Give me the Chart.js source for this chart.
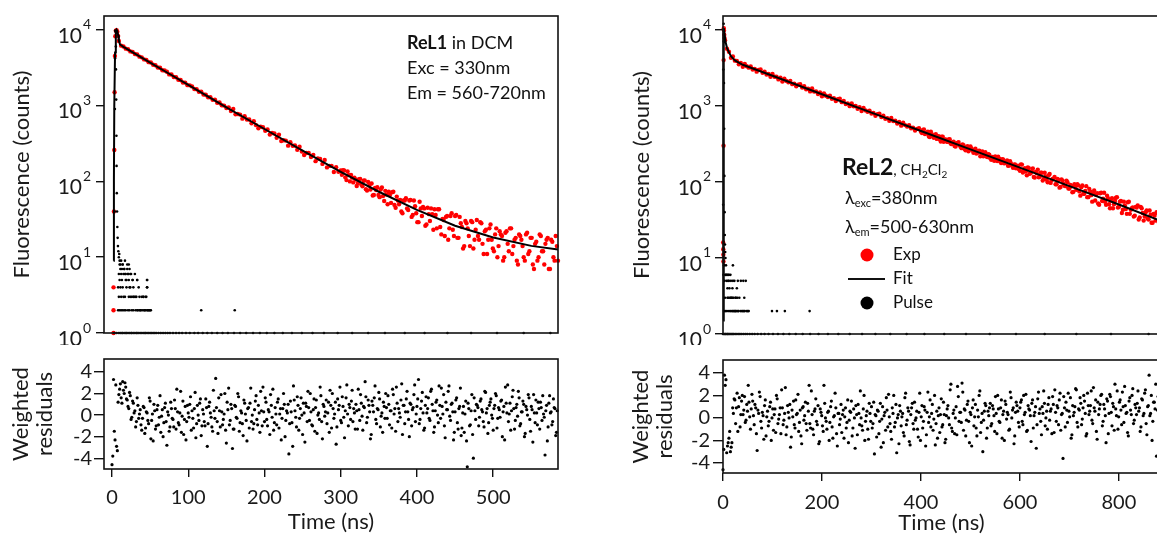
<!DOCTYPE html>
<html>
<head>
<meta charset="utf-8">
<script src="https://cdn.jsdelivr.net/npm/chart.js"></script>
<style>
  html, body { margin: 0; padding: 0; background: #fff; overflow: hidden; width: 1157px; height: 536px; }
  .box { position: absolute; }
</style>
</head>
<body>
<div class="box" style="left:0;top:0;width:580px;height:345px"><canvas id="mainL"></canvas></div>
<div class="box" style="left:0;top:345px;width:580px;height:191px"><canvas id="resLc"></canvas></div>
<div class="box" style="left:620px;top:0;width:560px;height:345px"><canvas id="mainR"></canvas></div>
<div class="box" style="left:620px;top:345px;width:560px;height:191px"><canvas id="resRc"></canvas></div>
<script>
// ---- data: ReL1 (left) ----
const fitL_t = [2, 2.5, 3, 4, 5, 6, 7, 8, 9, 10.5, 15, 25, 50, 75, 100, 150, 200, 250, 300, 350, 400, 450, 500, 550, 585];
const fitL_y = [9, 100, 1000, 5000, 9500, 10000, 9600, 8500, 7200, 6400, 5940, 5180, 3690, 2630, 1870, 950, 491, 254, 134, 73, 42, 26, 18.2, 14.1, 12.6];

const expL_riseT = [2, 2, 2, 2.5, 3, 3.4, 3.8, 4.3, 5, 6, 7, 8];
const expL_riseY = [1, 2, 4, 40, 260, 1500, 4500, 8200, 9700, 9900, 9400, 8300];
// channels every 3 ns from 9 ns
const expL_t0 = 9, expL_dt = 3;
const expL = [
  7100, 6180, 6010, 5640, 5530, 5190, 5110, 4790, 4720, 4420,
  4330, 4070, 4010, 3740, 3700, 3450, 3410, 3180, 3150, 2920,
  2900, 2790, 2580, 2570, 2380, 2370, 2190, 2180, 2020, 2010,
  1860, 1850, 1790, 1650, 1640, 1520, 1530, 1400, 1390, 1290,
  1290, 1190, 1200, 1090, 1100, 1010, 1000, 930,
  948, 850, 901, 768, 776, 761, 673, 722, 654, 654,
  586, 621, 552, 503, 525, 519, 466, 484, 416, 435,
  429, 377, 412, 341, 349, 345, 296, 329, 295, 297,
  261, 286, 247, 223, 237, 237, 209, 224, 185, 200,
  197, 170, 192, 153, 160, 160, 133, 154, 134, 139,
  140, 113, 135, 100, 112, 112, 87, 107, 91, 102,
  79, 98, 78, 65, 82, 84, 62, 83, 55, 67,
  73, 52, 73, 45, 56, 57, 38, 56, 44, 56,
  34, 56, 38, 29, 44, 46, 26, 45, 30, 37,
  43, 24, 43, 20, 31, 34, 17, 35, 23, 35,
  18, 34, 25, 14, 28, 19, 30, 13, 23, 19,
  29, 15, 22, 11, 24, 17, 12, 24, 14, 20,
  9, 21, 15, 24, 11, 17, 9, 20, 17, 10,
  20, 11, 18, 8, 15, 9, 20, 12, 8, 17,
  7, 17, 10, 19, 9
];
// in-between channels of the tail, from 301.5 ns
const expL2_t0 = 301.5, expL2_dt = 3;
const expL2 = [
  122, 139, 104, 121, 122, 97, 106, 95, 108, 86,
  103, 76, 88, 94, 66, 77, 66, 78, 64, 75,
  50, 66, 72, 49, 63, 50, 40, 56, 60, 42,
  57, 36, 47, 29, 54, 35, 44, 27, 37, 44,
  23, 36, 43, 25, 32, 19, 35, 24, 38, 19,
  36, 18, 28, 13, 30, 24, 14, 29, 17, 31,
  17, 28, 11, 23, 17, 27, 13, 20, 10, 22,
  19, 10, 22, 12, 24, 14, 18, 8, 19, 14,
  9, 21, 12, 18, 7, 16, 10, 19, 12, 15,
  18, 7, 16, 9, 14
];

const pulseL_t = [3, 3.5, 3.8, 4, 4.3, 4.6, 5, 5.2, 5.5, 5.8, 6, 6.3, 6.6, 7, 7.4, 7.8, 8.3, 9, 9.5, 10,
  11, 12, 13, 14, 15, 16, 17, 18, 19, 20, 21, 22, 23, 24, 25, 26, 27, 28, 29, 30,
  31, 32, 33, 34, 35, 36, 37, 38, 39, 40, 41, 42, 43, 45, 46, 46, 46, 48, 50, 117, 161,
  8, 10, 12, 14, 16, 18, 21, 23, 26, 28, 33, 36, 44, 47, 49, 51,
  9, 12, 15, 17, 22, 24, 28, 31, 41, 44,
  8, 11, 14, 19, 23, 46, 10, 13, 18, 27, 33, 46,
  9, 12, 17, 21, 24, 11, 16, 20, 10, 14, 22,
  6, 9, 11, 13, 14, 16, 18, 19, 21, 23, 25, 26, 28, 30, 32, 33, 35, 37, 39, 41, 43, 44, 46, 48, 50,
  52, 54, 56, 58, 61, 64, 67, 70, 73, 76, 80, 84, 88, 92, 97, 102, 108, 113, 119, 125, 131, 138, 145,
  152, 160, 168, 176, 185, 194, 203, 213, 224, 236, 249, 263, 278, 296, 315, 336, 358, 384, 410, 440,
  471, 505, 540, 575];
const pulseL_y = [1, 40, 900, 4200, 9800, 9500, 6000, 3000, 1200, 400, 160, 70, 40, 25, 18, 14, 12, 10, 11, 9,
  8, 9, 7, 8, 6, 7, 9, 6, 5, 8, 6, 5, 7, 4, 6, 3, 5, 4, 3, 6,
  2, 3, 5, 2, 4, 3, 2, 2, 3, 2, 3, 2, 2, 3, 5, 4, 2, 2, 2, 2, 2,
  2, 2, 2, 2, 2, 2, 2, 2, 2, 2, 2, 2, 2, 2, 2, 2,
  3, 3, 3, 3, 3, 3, 3, 3, 3, 3,
  4, 4, 4, 4, 4, 4, 5, 5, 5, 5, 5, 5,
  6, 6, 6, 6, 6, 7, 7, 7, 8, 8, 8,
  1, 1, 1, 1, 1, 1, 1, 1, 1, 1, 1, 1, 1, 1, 1, 1, 1, 1, 1, 1, 1, 1, 1, 1, 1,
  1, 1, 1, 1, 1, 1, 1, 1, 1, 1, 1, 1, 1, 1, 1, 1, 1, 1, 1, 1, 1, 1, 1,
  1, 1, 1, 1, 1, 1, 1, 1, 1, 1, 1, 1, 1, 1, 1, 1, 1, 1, 1, 1,
  1, 1, 1, 1];

// weighted residuals, channels every 2 ns from 0 and from 1
const resL_t0 = 0, resL_dt = 2;
const resL = [
  -4.6, 3.3, -2.3, -2.9, 1.2, 2.4, 1.6, 3.1, 2.0, 2.6, 1.4, 0.6, 1.8, -0.2, 1.1, 0.4, -0.6, 0.9, 0.1, -0.9,
  -0.3, 0.7, -1.2, 0.2, -0.8, 1.3, -0.5, -2.4, 0.4, -1.0, 0.9, -0.2, -1.6, 0.5, -0.7, 1.1, -2.8, 0.0, -1.1, 0.6,
  -0.4, 1.4, -1.3, 0.3, -0.9, 2.2, -0.1, -1.8, 0.8, -0.6, 0.2, 1.0, -1.4, -0.3, 0.6, -2.1, 0.9, -0.5, 1.5, -1.0,
  0.1, -1.0, 0.7, -0.8, 1.2, -0.2, -1.5, 0.4, 3.4, -0.6, 1.6, -1.1, 0.3, -0.4, 2.0, -2.6, 0.5, -0.9, 1.0, -3.1,
  -1.3, 0.8, -0.3, 1.7, -0.7, 0.2, -1.9, 1.1, -0.5, 0.6, -1.2, 2.5, 0.0, -0.8, 1.3, -0.4, 0.9, -1.6, 0.4, 2.6,
  -0.6, 1.2, -1.0, 0.3, 1.9, -0.2, -1.4, 0.7, -0.9, 1.5, 0.1, -2.3, 0.6, 1.0, -0.5, 0.2, -3.6, 1.3, -0.7, 2.7,
  0.4, -1.1, 0.9, -0.3, 1.6, -1.8, 0.2, 1.1, -0.6, 0.7, 2.0, -0.9, 0.5, -1.5, 1.4, 0.0, -0.4, 1.8, -2.2, 0.8,
  0.3, -0.8, 1.2, 2.3, -1.2, 0.6, 0.1, -2.7, 1.5, 0.9, -0.5, 1.7, -0.2, 0.4, 2.8, -1.0, 0.7, 1.3, -0.6, 0.2,
  1.0, -1.3, 0.5, 1.9, -0.1, 0.8, 3.1, -0.7, 1.4, 0.3, -1.8, 0.9, 1.6, -0.4, 0.6, 2.1, -1.1, 0.2, 1.2, -0.3,
  0.7, 1.8, -0.9, 0.4, 2.4, 0.1, -1.5, 1.1, 0.6, -0.2, 2.9, 0.9, -0.8, 1.5, 0.3, -2.0, 1.0, 0.5, 1.9, -0.6,
  0.8, 3.3, -0.4, 1.3, 0.2, -1.2, 1.7, 0.6, -0.3, 2.2, 1.0, -1.6, 0.4, 1.4, -0.7, 0.9, 2.5, 0.1, -1.0, 1.2,
  0.5, 2.7, -0.5, 1.1, -2.3, 0.3, 1.6, -1.3, 0.8, -1.9, 0.2, -1.6, 1.3, -4.8, 0.6, -0.9, 1.9, -4.0, 0.4, 1.0,
  0.7, -0.2, 1.5, 0.3, -1.1, 2.1, 0.6, -0.7, 1.2, 0.0, -1.4, 0.9, 1.8, -0.3, 0.5, 1.3, -2.0, 0.8, 2.6, 0.2,
  -0.6, 1.1, 0.4, 2.3, -1.3, 0.7, -0.1, 1.6, -0.8, 0.3, 1.0, -1.7, 0.5, 1.9, -0.4, 0.8, -2.5, 0.2, 1.4, -0.9,
  0.6, 1.2, -0.5, 0.1, -3.7, 0.9, -1.1, 1.8, 0.3, -0.6, 0.7, -1.9, 0.4
];
const resL2_t0 = 1, resL2_dt = 2;
const resL2 = [
  -3.8, -1.5, 2.8, -3.3, 1.9, 2.9, 1.1, 2.3, 3.0, 1.5, 0.8, 2.1, -0.4, 1.3, 0.2, -1.1, 1.6, -0.3, 0.5, -1.4,
  0.8, -1.7, 0.3, -0.5, 1.6, -2.2, 0.1, 1.0, -1.3, 0.5, -0.9, 1.8, -0.1, -2.0, 0.7, -0.6, 0.3, -1.5, 1.2, -0.3,
  -1.1, 0.6, 2.4, -0.7, 0.2, -1.6, 1.3, -0.4, -2.3, 0.9, -0.2, 1.7, 0.4, -1.2, 2.1, -0.8, 0.0, 1.1, -1.9, 0.5,
  -0.6, 1.5, -2.9, 0.8, 0.2, -1.1, 2.3, -0.3, 0.7, -1.7, 0.4, 1.9, -0.9, 0.1, -1.4, 1.2, 2.5, -0.5, 0.6, -1.3,
  0.9, -0.2, 2.0, -1.5, 0.4, -0.8, 1.4, 0.1, -2.4, 0.7, 1.1, -0.6, -1.3, 0.5, 1.8, -0.9, 0.2, 2.2, -1.0, 0.3,
  1.6, -0.4, 0.5, -1.8, 0.9, 2.4, -0.7, 0.1, 1.2, -1.2, 0.6, -0.3, 2.0, -2.0, 0.4, 1.0, -0.8, 0.3, -2.9, 1.4,
  -0.2, 1.7, -1.4, 0.6, 0.0, 1.1, -2.5, 0.8, 2.2, -0.5, 0.3, -1.0, 1.5, 0.7, -1.7, 0.2, 2.6, -0.6, 1.0, -0.1,
  1.4, 0.2, -1.6, 0.9, 2.0, -0.3, 1.2, -1.1, 0.5, 2.6, -0.7, 0.8, -2.1, 1.6, 0.1, 1.0, -0.4, 2.3, 0.6, -1.3,
  0.4, 2.4, -0.5, 1.1, -1.4, 0.7, 1.7, -0.2, 0.9, -2.2, 1.3, 0.3, 2.7, -0.8, 0.5, 1.5, -0.1, -1.6, 0.8, 2.0,
  -0.3, 1.0, 0.4, -1.2, 1.9, 0.6, 2.6, -0.6, 0.2, 1.4, -1.8, 0.9, 0.3, 2.2, -0.4, 1.1, -1.0, 0.7, 2.8, 0.1,
  1.5, -0.8, 0.6, 2.1, -1.4, 0.9, 0.2, 1.6, -0.5, 2.4, 0.4, -1.1, 1.2, 0.0, 2.7, -0.3, 0.8, 1.9, -2.1, 0.5,
  2.2, -0.1, 1.0, 0.3, -1.6, 1.4, -0.7, 0.6, 2.5, -1.2, 0.8, 0.1, -2.4, 1.1, -1.0, 0.4, -1.8, 1.6, -0.4, 0.9,
  -1.0, 1.3, 0.5, -0.6, 2.2, 0.2, -1.7, 0.9, 1.5, -0.3, 0.6, 2.0, -1.2, 0.7, -0.2, 1.4, 0.3, -2.3, 1.1, 2.8,
  0.1, -1.4, 1.7, 0.6, -0.5, 1.0, 2.2, -1.0, 0.3, 1.3, -2.0, 0.8, 0.0, 1.6, -1.5, 0.5, 1.9, -0.7, 0.2, 1.2,
  -1.3, 0.7, 1.8, -0.2, 0.4, -2.4, 1.1, 0.2, -0.9, 1.5, 0.6, -1.6
];

// ---- data: ReL2 (right) ----
const fitR_t = [0.4, 1, 1.5, 2, 3, 5, 8, 12, 16, 24, 40, 100, 200, 300, 400, 500, 600, 700, 800, 883];
const fitR_y = [1.5, 200, 3000, 10500, 9000, 7000, 5800, 5100, 4500, 3970, 3470, 2485, 1424, 816, 467, 268, 154, 88, 50.5, 31];

const expR_riseT = [0.3, 0.5, 0.7, 0.9, 1.1, 1.3, 1.6, 2, 2.5, 3];
const expR_riseY = [16, 13, 11, 9, 300, 4000, 10500, 9800, 8600, 7800];
// channels every 4 ns from 4 ns
const expR_t0 = 4, expR_dt = 4;
const expR = [
  7280, 5630, 5150, 4280, 4450, 3930, 3900, 3530, 3670, 3260,
  3560, 3320, 3180, 3300, 3010, 3070, 2820, 2960, 3010, 2720,
  2820, 2580, 2620, 2410, 2630, 2410, 2420, 2230, 2340, 2090,
  2280, 2130, 2040, 2120, 1930, 1960, 1810, 1900, 1930, 1740,
  1810, 1650, 1680, 1550, 1690, 1540, 1550, 1430, 1500, 1340,
  1460, 1360, 1310, 1360, 1240, 1260, 1160, 1220, 1240, 1120,
  1160, 1060, 1080, 991, 1080, 987, 995, 916, 961, 857,
  937, 872, 836, 867, 792, 806, 741, 778, 791, 715,
  743, 677, 690, 635, 692, 633, 638, 587, 615, 549,
  600, 559, 535, 555, 506, 516, 475, 499, 507, 458,
  484, 427, 444, 395, 456, 403, 412, 368, 399, 340,
  393, 358, 340, 363, 320, 332, 296, 322, 334, 290,
  311, 273, 284, 253, 292, 258, 264, 236, 256, 218,
  252, 229, 217, 232, 204, 213, 190, 207, 214, 186,
  199, 176, 183, 163, 187, 165, 169, 151, 164, 140,
  169, 147, 137, 155, 128, 138, 116, 135, 145, 117,
  132, 109, 118, 99, 127, 105, 110, 93, 109, 84,
  108, 94, 88, 99, 82, 88, 74, 87, 93, 75,
  85, 70, 76, 63, 81, 67, 71, 57, 71, 50,
  72, 60, 55, 66, 51, 57, 45, 56, 63, 47,
  56, 43, 49, 38, 55, 43, 46, 36, 46, 32,
  47, 39, 35, 42, 32, 37, 29, 36, 40, 30
];
// in-between channels of the tail, from 402 ns
const expR2_t0 = 402, expR2_dt = 4;
const expR2 = [
  439, 488, 433, 458, 389, 425, 380, 423, 391, 363,
  392, 337, 361, 336, 365, 314, 337, 292, 326, 303,
  278, 303, 260, 296, 268, 276, 241, 273, 241, 257,
  244, 218, 245, 213, 228, 195, 211, 217, 188, 202,
  177, 197, 177, 192, 164, 174, 153, 170, 161, 147,
  170, 133, 152, 122, 152, 131, 150, 114, 130, 115,
  132, 104, 132, 107, 122, 97, 109, 116, 93, 106,
  86, 104, 89, 104, 82, 91, 73, 93, 79, 90,
  66, 90, 70, 88, 63, 75, 55, 77, 68, 52,
  71, 56, 72, 50, 61, 45, 61, 51, 62, 46,
  55, 39, 55, 44, 54, 38, 45, 35, 47, 49,
  34, 45, 31, 40, 33, 42, 29, 38, 31, 39
];

const pulseR_t = [0, 0.3, 0.6, 1, 1.3, 1.6, 2, 2.4, 2.8, 3.2, 3.6, 4, 4.5, 5, 6, 6, 7, 8, 9, 10,
  11, 12, 13, 14, 15, 16, 17, 18, 19, 20, 21, 22, 23, 24, 26, 27, 28, 30, 33, 36,
  38, 40, 43, 46, 48, 52, 99, 109, 125, 175,
  2, 5, 8, 12, 20, 25, 31, 35, 42, 44, 50, 4, 9, 16, 19, 25, 29, 3, 12, 20, 30, 41, 1, 5, 10, 15, 2,
  2, 4, 5, 7, 9, 10, 12, 14, 16, 18, 20, 22, 25, 28, 31, 34, 37, 41, 45, 49, 54, 59, 64, 70, 77,
  84, 92, 101, 111, 122, 134, 147, 161, 176, 193, 212, 233, 256, 281, 308, 338, 371, 407, 447, 491,
  539, 592, 650, 714, 784, 860];
const pulseR_y = [1, 50, 3000, 10000, 12000, 7000, 2000, 500, 120, 40, 20, 15, 12, 10, 8, 6, 5, 6, 4, 5,
  3, 6, 4, 3, 2, 5, 3, 2, 4, 8, 3, 2, 5, 2, 3, 2, 4, 2, 3, 5,
  2, 2, 3, 5, 2, 2, 2, 2, 2, 2,
  2, 2, 2, 2, 2, 2, 2, 2, 2, 2, 2, 3, 3, 3, 3, 3, 3, 5, 5, 5, 5, 5, 6, 6, 6, 6, 8,
  1, 1, 1, 1, 1, 1, 1, 1, 1, 1, 1, 1, 1, 1, 1, 1, 1, 1, 1, 1, 1, 1, 1, 1, 1,
  1, 1, 1, 1, 1, 1, 1, 1, 1, 1, 1, 1, 1, 1, 1, 1, 1, 1, 1, 1,
  1, 1, 1, 1, 1, 1];

// weighted residuals, channels every 3 ns from 0 and from 1.5
const resR_t0 = 0, resR_dt = 3;
const resR = [
  -4.6, 3.8, 3.4, -2.5, -1.8, -3.0, -2.2, 0.4, 1.6, 0.9, -1.2, 1.8, 0.3, 2.0, 0.7, -0.4, 1.2, 2.9, 0.1, 0.8,
  1.5, -0.6, 0.9, -2.9, 0.4, 1.9, -0.9, 0.2, 1.1, -1.6, 0.6, -0.3, 1.4, 0.0, -1.1, 0.8, 2.0, -0.5, 0.3, -1.4,
  0.9, -0.2, 2.7, -0.8, 0.5, 1.2, -1.7, 0.1, -0.6, 1.6, 0.4, -1.2, 0.7, -2.3, 1.0, 0.2, -0.5, 1.3, 2.9, -0.9,
  0.3, -1.5, 0.8, -0.3, 1.1, -2.1, 0.5, -0.7, 2.9, 0.0, -1.0, 0.6, -0.4, 1.5, -1.8, 0.2, 0.9, -2.5, 0.4, -0.1,
  -1.3, 0.7, 0.1, -0.9, 1.6, -0.2, 0.5, -1.6, 0.8, -2.7, 0.3, 1.2, -0.6, 0.0, -1.1, 2.0, -0.3, 0.6, -1.9, 0.4,
  1.0, -0.5, -3.2, 0.2, 0.7, -1.4, 1.3, -0.1, -2.2, 0.5, 1.8, -0.8, 0.1, -1.2, 0.9, 2.0, -0.4, -3.1, 0.3, 1.1,
  -0.7, 0.4, -1.6, 2.2, -0.2, 0.6, -2.4, 0.9, -0.5, 1.4, 0.0, -1.0, 0.5, -2.0, 1.1, -0.3, 0.7, -1.5, 2.3, 0.1,
  -0.8, 1.2, -0.1, -2.4, 0.6, 0.2, -1.3, 1.7, -0.6, 0.3, -1.9, 0.8, 0.0, 2.5, -0.9, 0.4, -1.4, 1.0, 2.8, -0.3,
  0.5, 3.1, -1.1, 0.7, -0.2, 1.5, -2.2, 0.3, 0.9, -0.7, 1.2, -1.6, 0.1, 2.4, -0.4, -3.0, 0.6, 1.1, -0.9, 0.2,
  1.3, -0.5, 0.8, -1.2, 0.4, 2.0, -0.3, 0.9, -1.8, 0.6, 1.5, -0.1, 0.3, -1.0, 1.8, 0.7, -2.3, 0.5, 1.1, -0.4,
  0.9, 1.6, -0.6, 0.3, 2.1, -1.1, 0.8, 0.2, 1.3, -0.9, 0.5, -2.7, 1.7, 0.4, -0.3, 1.0, 2.4, -0.7, 0.6, 1.2,
  -0.2, 0.8, 1.9, -1.3, 0.5, 1.1, -0.6, 2.2, 0.3, -3.6, 0.9, 1.4, -0.4, 0.6, 1.8, -1.5, 0.2, 1.0, 2.5, -0.8,
  0.7, 1.3, -0.1, 2.0, 0.4, -1.4, 1.1, 0.6, 2.4, -0.5, 0.9, 1.6, -1.9, 0.3, 1.2, 2.1, -0.3, 0.8, -2.2, 1.5,
  0.4, 1.9, -0.7, 1.0, 3.0, 0.2, -1.0, 1.4, 0.7, 2.3, -0.4, 1.1, 0.5, -1.6, 1.8, 0.3, 2.6, -0.2, 0.9, 1.3,
  0.6, -1.2, 1.7, 0.2, 2.2, -0.5, 1.0, 3.8, 0.4, -2.0, 1.4, 0.8, -3.4, 1.9
];
const resR2_t0 = 1.5, resR2_dt = 3;
const resR2 = [
  -2.8, 2.9, -3.1, -2.2, -1.2, -2.6, 0.9, 1.7, -0.5, 2.2, 1.0, -0.8, 1.5, 0.3, 1.9, -0.2, 0.6, 1.4, -1.0, 2.1,
  0.2, 1.2, -1.4, 0.7, 2.3, -0.3, 0.5, -1.9, 1.6, 0.1, -0.7, 1.0, -2.0, 0.8, 0.3, -1.3, 1.7, -0.1, 0.9, 2.5,
  -0.6, 0.4, -1.5, 1.1, 0.0, -2.6, 0.7, 1.5, -0.9, 0.3, 2.1, -0.4, -1.6, 0.9, -0.2, 1.4, -1.1, 0.6, -0.5, 2.4,
  -1.0, 0.6, 1.7, -0.6, -2.3, 0.8, 0.2, -1.2, 1.3, -0.3, 0.5, -2.0, 1.0, -0.8, 0.1, 2.2, -1.4, 0.4, -0.6, 1.2,
  0.3, -1.8, 0.9, -0.4, -2.2, 0.6, 1.5, -0.9, 0.0, 1.1, -1.5, 0.4, 2.4, -0.7, 0.8, -2.0, 0.2, -1.0, 1.3, -0.3,
  -0.9, 1.4, 0.3, -1.7, 0.6, -0.3, -2.6, 1.0, 0.2, -1.1, 0.7, 2.1, -0.5, -1.9, 0.4, -0.8, 1.2, 0.0, -2.3, 0.6,
  0.1, -1.3, 1.8, -0.6, 0.9, -2.1, 0.3, 1.3, -1.0, -0.2, 0.6, -1.7, 2.2, 0.1, -0.9, 1.0, -2.5, 0.5, -0.4, 1.6,
  0.4, -1.1, 2.0, -0.5, -1.8, 0.9, 0.3, -0.8, 1.4, -2.2, 0.2, 1.1, -0.6, 3.0, -1.2, 0.7, 0.0, -1.5, 1.9, 0.5,
  -0.4, 2.3, 0.8, -1.6, 1.2, -0.3, 0.5, -2.5, 1.6, 0.1, -0.9, 0.7, 2.0, -1.3, 0.4, -0.2, 1.3, -1.8, 0.6, 0.9,
  -0.7, 1.1, 0.2, 1.9, -1.4, 0.8, -0.4, 1.6, 0.3, -2.0, 1.2, 0.5, -1.1, 2.3, 0.0, 0.9, -1.6, 1.4, 0.6, -0.8,
  1.4, -0.3, 2.0, 0.5, -1.2, 1.1, 0.7, -2.1, 1.6, 0.2, 1.0, -0.6, 2.3, 0.8, -1.5, 0.4, 1.3, 0.0, -1.0, 1.8,
  0.6, -1.4, 1.2, 2.5, -0.3, 0.9, 1.6, -1.1, 0.4, 1.9, -0.8, 0.7, 2.2, 0.1, -1.8, 1.1, 0.5, 2.6, -0.4, 0.8,
  1.8, -0.6, 0.9, 1.5, -1.6, 2.2, 0.3, 1.1, -0.2, 2.7, 0.6, -1.2, 1.4, 0.8, 2.0, -0.7, 1.2, 0.2, 1.7, -1.4,
  2.1, 0.5, 1.3, -1.1, 0.8, 2.4, 0.1, 1.6, -0.6, 1.0, 2.8, 0.4, -1.3, 1.5, 0.7, 2.0, -0.5, 1.2, 0.3, 2.4,
  0.9, -0.8, 1.6, 0.4, 2.5, -1.5, 1.1, 0.2, 2.0, -0.3, 1.4, 3.0, 0.7
];

// axis ticks
const decades = [1, 10, 100, 1000, 10000];
const resTicks = [-4, -2, 0, 2, 4];
const timeTicksL = [0, 100, 200, 300, 400, 500];
const timeTicksR = [0, 200, 400, 600, 800];

// ---- helpers ----
const INK = '#1a1a1a';
const FONT = 'Lato, "Open Sans", "DejaVu Sans", sans-serif';
Chart.defaults.font.family = FONT;
Chart.defaults.color = INK;
Chart.defaults.animation = false;
Chart.defaults.plugins.legend.display = false;
Chart.defaults.plugins.tooltip.enabled = false;

const pairs = (xs, ys) => xs.map((x, i) => ({ x, y: ys[i] }));
const channels = (t0, dt, ys) => ys.map((y, i) => ({ x: t0 + i * dt, y }));

const frame = {
  id: 'frame',
  afterDatasetsDraw(chart) {
    const { ctx, chartArea: a } = chart;
    ctx.save();
    ctx.strokeStyle = '#111';
    ctx.lineWidth = 1.6;
    ctx.strokeRect(a.left, a.top, a.right - a.left, a.bottom - a.top);
    ctx.restore();
  }
};

// 10^n labels on the log axis
const decadeLabels = {
  id: 'decadeLabels',
  afterDraw(chart) {
    const ys = chart.scales.y, ctx = chart.ctx;
    ctx.save();
    ctx.fillStyle = INK;
    ctx.textBaseline = 'middle';
    decades.forEach((v, n) => {
      const py = ys.getPixelForValue(v);
      ctx.font = '21px ' + FONT;
      ctx.textAlign = 'right';
      ctx.fillText('10', 82, py + 6);
      ctx.font = '14px ' + FONT;
      ctx.textAlign = 'left';
      ctx.fillText(String(n), 83, py - 5);
    });
    ctx.restore();
  }
};

function runs(ctx, x, y, parts) {
  parts.forEach(([t, size, dy, bold]) => {
    ctx.font = (bold ? 'bold ' : '') + size + 'px ' + FONT;
    ctx.fillText(t, x, y + dy);
    x += ctx.measureText(t).width;
  });
}

const noteL = {
  id: 'noteL',
  afterDraw(chart) {
    const ctx = chart.ctx;
    ctx.save();
    ctx.fillStyle = '#111';
    ctx.textAlign = 'left';
    ctx.textBaseline = 'middle';
    runs(ctx, 407, 43, [['ReL1', 18, 0, true], [' in DCM', 18, 0]]);
    runs(ctx, 407, 68, [['Exc = 330nm', 18, 0]]);
    runs(ctx, 407, 93, [['Em = 560-720nm', 18, 0]]);
    ctx.restore();
  }
};

const noteR = {
  id: 'noteR',
  afterDraw(chart) {
    const ctx = chart.ctx;
    ctx.save();
    ctx.fillStyle = '#111';
    ctx.textAlign = 'left';
    ctx.textBaseline = 'middle';
    runs(ctx, 222, 168, [['ReL2', 23, 0, true], [', CH', 15, 2], ['2', 10, 7], ['Cl', 15, 2], ['2', 10, 7]]);
    runs(ctx, 225, 198, [['\u03bb', 18, 0], ['exc', 11, 5], ['=380nm', 18, 0]]);
    runs(ctx, 225, 227, [['\u03bb', 18, 0], ['em', 11, 5], ['=500-630nm', 18, 0]]);
    // legend
    ctx.fillStyle = '#ff0000';
    ctx.beginPath(); ctx.arc(247, 255, 6.5, 0, Math.PI * 2); ctx.fill();
    ctx.fillStyle = '#000';
    ctx.beginPath(); ctx.arc(247, 303, 6.5, 0, Math.PI * 2); ctx.fill();
    ctx.strokeStyle = '#111'; ctx.lineWidth = 2;
    ctx.beginPath(); ctx.moveTo(228, 279); ctx.lineTo(265, 279); ctx.stroke();
    ctx.fillStyle = '#111';
    runs(ctx, 273, 255, [['Exp', 17, 0]]);
    runs(ctx, 273, 279, [['Fit', 17, 0]]);
    runs(ctx, 273, 303, [['Pulse', 17, 0]]);
    ctx.restore();
  }
};

function logAxis(width) {
  return {
    type: 'logarithmic', min: 1, max: 15200,
    afterBuildTicks: s => { s.ticks = decades.map(v => ({ value: v })); },
    afterFit: s => { s.width = width; },
    ticks: { callback: () => '', autoSkip: false },
    grid: { drawOnChartArea: false, tickLength: 8, color: '#111', lineWidth: 1.4 },
    border: { display: false },
    title: { display: true, text: 'Fluorescence (counts)', font: { size: 22 }, color: INK, padding: { top: 9, bottom: 0 } }
  };
}

function resAxis(width, min, max, pad) {
  return {
    type: 'linear', min, max,
    afterBuildTicks: s => { s.ticks = resTicks.map(v => ({ value: v })); },
    afterFit: s => { s.width = width; },
    ticks: { font: { size: 20 }, padding: pad, autoSkip: false, color: INK },
    grid: { drawOnChartArea: false, tickLength: 10, color: '#111', lineWidth: 1.4 },
    border: { display: false },
    title: { display: true, text: ['Weighted', 'residuals'], font: { size: 22, lineHeight: 1.1 }, color: INK, padding: { top: 9, bottom: 0 } }
  };
}

function timeAxis(min, max, ticks, height, pad, tpad) {
  return {
    type: 'linear', min, max,
    afterBuildTicks: s => { s.ticks = ticks.map(v => ({ value: v })); },
    afterFit: s => { s.height = height; },
    ticks: { font: { size: 20 }, padding: pad, maxRotation: 0, autoSkip: false, color: INK },
    grid: { drawOnChartArea: false, tickLength: 8, color: '#111', lineWidth: 1.4 },
    border: { display: false },
    title: { display: true, text: 'Time (ns)', font: { size: 22 }, color: INK, padding: { top: 0, bottom: tpad } }
  };
}

function decayChart(id, fitT, fitY, riseT, riseY, exp, exp2, pT, pY, xmin, xmax, yw, padding, plugins) {
  const expPts = pairs(riseT, riseY).concat(channels(exp[0], exp[1], exp[2]), channels(exp2[0], exp2[1], exp2[2]));
  new Chart(document.getElementById(id), {
    type: 'scatter',
    data: {
      datasets: [
        { label: 'Pulse', data: pairs(pT, pY), pointRadius: 1.3, pointBackgroundColor: '#000', pointBorderWidth: 0, order: 1, clip: 6 },
        { label: 'Fit', data: pairs(fitT, fitY), showLine: true, pointRadius: 0, borderColor: '#000', borderWidth: 2, order: 2, clip: 2 },
        { label: 'Exp', data: expPts, pointRadius: 2.2, pointBackgroundColor: '#ff0000', pointBorderWidth: 0, order: 3, clip: 6 }
      ]
    },
    options: {
      responsive: true, maintainAspectRatio: false, devicePixelRatio: 1,
      layout: { padding },
      scales: { x: { type: 'linear', min: xmin, max: xmax, display: false }, y: logAxis(yw) }
    },
    plugins: [frame, decadeLabels].concat(plugins)
  });
}

function residualChart(id, r1, r2, xmin, xmax, ticks, yw, ymin, ymax, ypad, xh, xpad, tpad, padding) {
  new Chart(document.getElementById(id), {
    type: 'scatter',
    data: {
      datasets: [
        { label: 'Residuals', data: channels(r1[0], r1[1], r1[2]).concat(channels(r2[0], r2[1], r2[2])),
          pointRadius: 1.6, pointBackgroundColor: '#000', pointBorderWidth: 0, clip: 3 }
      ]
    },
    options: {
      responsive: true, maintainAspectRatio: false, devicePixelRatio: 1,
      layout: { padding },
      scales: { x: timeAxis(xmin, xmax, ticks, xh, xpad, tpad), y: resAxis(yw, ymin, ymax, ypad) }
    },
    plugins: [frame]
  });
}

decayChart('mainL', fitL_t, fitL_y, expL_riseT, expL_riseY, [expL_t0, expL_dt, expL], [expL2_t0, expL2_dt, expL2],
  pulseL_t, pulseL_y, -10.5, 585, 104, { top: 16, right: 22, bottom: 12, left: 0 }, [noteL]);
residualChart('resLc', [resL_t0, resL_dt, resL], [resL2_t0, resL2_dt, resL2], -10.5, 585, timeTicksL,
  104, -5, 5.2, 2, 67, 9, 1, { top: 12, right: 22, bottom: 0, left: 0 });
decayChart('mainR', fitR_t, fitR_y, expR_riseT, expR_riseY, [expR_t0, expR_dt, expR], [expR2_t0, expR2_dt, expR2],
  pulseR_t, pulseR_y, 0, 883, 103, { top: 16, right: 20, bottom: 11, left: 0 }, [noteR]);
residualChart('resRc', [resR_t0, resR_dt, resR], [resR2_t0, resR2_dt, resR2], 0, 883, timeTicksR,
  103, -4.9, 5.15, 3, 63, 10, 0, { top: 14, right: 20, bottom: 0, left: 0 });
</script>
</body>
</html>
